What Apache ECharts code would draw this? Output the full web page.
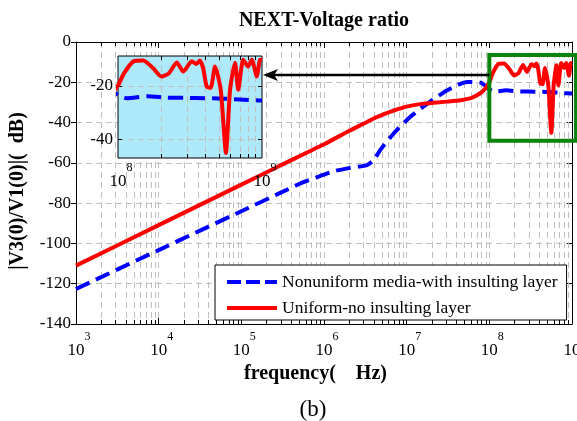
<!DOCTYPE html>
<html>
<head>
<meta charset="utf-8">
<title>NEXT-Voltage ratio</title>
<script src="https://cdn.jsdelivr.net/npm/echarts@6/dist/echarts.min.js"></script>
<style>
  html, body { margin: 0; padding: 0; background: #fff; }
  #chart { width: 577px; height: 421px; }
</style>
</head>
<body>
<div id="chart"></div>
<script>
// ---- data -------------------------------------------------------------
// Uniform line, no insulating layer (solid red)
const uniformFreq = [1e3, 1e4, 1e5, 3e5, 1e6, 2e6, 3e6, 4e6, 5.5e6, 7e6, 1e7, 1.6e7, 3e7, 4.5e7, 6e7, 7e7, 8e7, 9e7,
  1e8, 1.1e8, 1.28e8, 1.5e8, 1.75e8, 2.0e8, 2.25e8, 2.56e8, 2.84e8, 3.25e8, 3.5e8, 3.7e8, 3.9e8, 4.13e8, 4.4e8,
  4.72e8, 5.17e8, 5.62e8, 6.0e8, 6.5e8, 6.84e8, 7.4e8, 8.0e8, 8.5e8, 9.2e8, 9.7e8, 1e9];
const uniformDb = [-111, -90.9, -70.8, -61.2, -50.8, -44.2, -40.6, -38, -35.6, -34, -32.1, -30.6, -29.6, -28.9, -27.9, -26.6, -25, -23,
  -20, -15.5, -11, -10.7, -13.5, -16.6, -15.5, -11.4, -14.8, -11.0, -12, -10.7, -13.5, -20.4, -20.9,
  -12.9, -21.6, -45.1, -21.6, -11.5, -21.6, -10.4, -12.9, -10.4, -16.6, -10.4, -10.5];

// Non-uniform media with insulating layer (dashed blue)
const nonuniformFreq = [1e3, 1e4, 1e5, 3e5, 5e5, 8e5, 1.3e6, 2e6, 3.3e6, 4e6, 4.8e6, 7e6, 1.1e7, 1.8e7, 3.1e7, 5.4e7, 8e7,
  1e8, 1.15e8, 1.6e8, 2.2e8, 3e8, 4e8, 5e8, 6e8, 7e8, 8e8, 9e8, 1e9];
const nonuniformDb = [-122.6, -103.3, -84, -74.8, -70.5, -67.3, -64.2, -62.6, -61.1, -58.6, -53.6, -45.3, -37.2, -30.5, -23.9, -19.8, -20.3,
  -23.5, -24.7, -24.0, -24.5, -24.6, -24.7, -24.8, -25.0, -25.2, -25.4, -25.5, -25.6];

const seriesNames = ['Nonuniform media-with insulting layer', 'Uniform-no insulting layer'];
const insetYLabels = [-20, -40];
const minorFactors = [2, 3, 4, 5, 6, 7, 8, 9];

// ---- layout / style ---------------------------------------------------
const FONT = "'Liberation Serif', 'Times New Roman', serif";
const GRID_COLOR = '#c0c0c0';
const GRID_DASH = [6, 4];
const mainRange = { fMin: 1e3, fMax: 1e9, yMin: -140, yMax: 0 };
const insetRange = { fMin: 1e8, fMax: 1e9, yMin: -47, yMax: -9 };
const zoomBox = { f0: 1e8, f1: 1.12e9, top: -6.5, bottom: -49 };
const arrow = { tipF: 1.83e5, tailF: 1e8, level: -16.4 };

const pairs = (xs, ys) => xs.map((x, i) => [x, ys[i]]);
const uniformData = pairs(uniformFreq, uniformDb);
const nonuniformData = pairs(nonuniformFreq, nonuniformDb);

function minorsBetween(fMin, fMax) {
  const out = [];
  for (let d = Math.log10(fMin); d < Math.log10(fMax); d++) {
    minorFactors.forEach(k => out.push([k * Math.pow(10, d), 0]));
  }
  return out;
}

const crisp = v => Math.round(v) + 0.5;

// vertical dashed grid line plus short inward ticks at both ends
function verticalGridRenderer(range, tickLen) {
  return function (params, api) {
    const f = api.value(0);
    const top = api.coord([f, range.yMax]);
    const bot = api.coord([f, range.yMin]);
    const x = crisp(top[0]);
    return {
      type: 'group',
      children: [
        { type: 'line', shape: { x1: x, y1: top[1], x2: x, y2: bot[1] },
          style: { stroke: GRID_COLOR, lineWidth: 1, lineDash: GRID_DASH } },
        { type: 'line', shape: { x1: x, y1: bot[1], x2: x, y2: bot[1] - tickLen },
          style: { stroke: '#000', lineWidth: 1 } },
        { type: 'line', shape: { x1: x, y1: top[1], x2: x, y2: top[1] + tickLen },
          style: { stroke: '#000', lineWidth: 1 } }
      ]
    };
  };
}

// horizontal dashed grid line plus inward ticks on both sides
function horizontalGridRenderer(range, tickLen) {
  return function (params, api) {
    const v = api.value(1);
    const l = api.coord([range.fMin, v]);
    const r = api.coord([range.fMax, v]);
    const y = crisp(l[1]);
    return {
      type: 'group',
      children: [
        { type: 'line', shape: { x1: l[0], y1: y, x2: r[0], y2: y },
          style: { stroke: GRID_COLOR, lineWidth: 1, lineDash: GRID_DASH } },
        { type: 'line', shape: { x1: l[0], y1: y, x2: l[0] + tickLen, y2: y },
          style: { stroke: '#000', lineWidth: 1 } },
        { type: 'line', shape: { x1: r[0], y1: y, x2: r[0] - tickLen, y2: y },
          style: { stroke: '#000', lineWidth: 1 } }
      ]
    };
  };
}

function powerLabel(v) {
  const n = Math.round(Math.log10(v));
  return '{e|' + n + '}{b|10}{s|' + n + '}';
}
const powerRich = {
  b: { fontFamily: FONT, fontSize: 17, color: '#000', lineHeight: 28, verticalAlign: 'bottom' },
  s: { fontFamily: FONT, fontSize: 12, color: '#000', lineHeight: 12, verticalAlign: 'top' },
  e: { fontFamily: FONT, fontSize: 12, color: 'rgba(0,0,0,0)', lineHeight: 12, verticalAlign: 'top' }
};

const hiddenMarker = { color: 'rgba(0,0,0,0)', borderColor: 'rgba(0,0,0,0)', borderWidth: 0, opacity: 0 };

const chart = echarts.init(document.getElementById('chart'), null, { renderer: 'canvas' });

const option = {
  animation: false,
  backgroundColor: '#fff',
  textStyle: { fontFamily: FONT },
  graphic: [
    { type: 'text', x: 324, y: 21, z: 20,
      style: { text: 'NEXT-Voltage ratio', font: 'bold 20px ' + FONT, fill: '#000',
               align: 'center', verticalAlign: 'middle', textAlign: 'center', textVerticalAlign: 'middle' } },
    { type: 'text', x: 313, y: 410, z: 20,
      style: { text: '(b)', font: '23px ' + FONT, fill: '#000',
               align: 'center', verticalAlign: 'middle', textAlign: 'center', textVerticalAlign: 'middle' } }
  ],
  grid: [
    { left: 76, top: 42, width: 496, height: 282, containLabel: false, outerBoundsMode: 'none' },
    { left: 118, top: 56, width: 144, height: 102, containLabel: false, outerBoundsMode: 'none', show: true,
      backgroundColor: '#aee9f9', borderColor: '#000', borderWidth: 1, z: 5 }
  ],
  xAxis: [
    { type: 'log', logBase: 10, gridIndex: 0, position: 'bottom',
      min: mainRange.fMin, max: mainRange.fMax, splitNumber: 6,
      axisLine: { show: true, onZero: false, lineStyle: { color: '#000', width: 1 } },
      axisTick: { show: true, inside: true, length: 6, lineStyle: { color: '#000' } },
      splitLine: { show: true, lineStyle: { color: GRID_COLOR, type: GRID_DASH } },
      axisLabel: { formatter: powerLabel, margin: 7, rich: powerRich },
      name: 'frequency(    Hz)', nameLocation: 'middle', nameGap: 36,
      nameTextStyle: { fontFamily: FONT, fontWeight: 'bold', fontSize: 20, color: '#000', padding: [0, 17, 0, 0] } },
    { type: 'log', logBase: 10, gridIndex: 0, position: 'top',
      min: mainRange.fMin, max: mainRange.fMax, splitNumber: 6,
      axisLine: { show: true, onZero: false, lineStyle: { color: '#000', width: 1 } },
      axisTick: { show: true, inside: true, length: 6, lineStyle: { color: '#000' } },
      axisLabel: { show: false }, splitLine: { show: false } },
    { type: 'log', logBase: 10, gridIndex: 1, position: 'bottom', z: 6,
      min: insetRange.fMin, max: insetRange.fMax, splitNumber: 1,
      axisLine: { show: false }, axisTick: { show: false }, splitLine: { show: false },
      axisLabel: { formatter: powerLabel, margin: 4, rich: powerRich } }
  ],
  yAxis: [
    { type: 'value', gridIndex: 0, position: 'left',
      min: mainRange.yMin, max: mainRange.yMax, interval: 20,
      axisLine: { show: true, onZero: false, lineStyle: { color: '#000', width: 1 } },
      axisTick: { show: true, inside: false, length: 5, lineStyle: { color: '#000' } },
      splitLine: { show: true, lineStyle: { color: GRID_COLOR, type: GRID_DASH } },
      axisLabel: { margin: 5, fontFamily: FONT, fontSize: 17, color: '#000' },
      name: '|V3(0)/V1(0)|(  dB)', nameLocation: 'middle', nameGap: 48, nameRotate: 90,
      nameTextStyle: { fontFamily: FONT, fontWeight: 'bold', fontSize: 20, color: '#000', padding: [0, 16, 0, 0] } },
    { type: 'value', gridIndex: 0, position: 'right',
      min: mainRange.yMin, max: mainRange.yMax, interval: 20,
      axisLine: { show: true, onZero: false, lineStyle: { color: '#000', width: 1 } },
      axisTick: { show: true, inside: true, length: 5, lineStyle: { color: '#000' } },
      axisLabel: { show: false }, splitLine: { show: false } },
    { type: 'value', gridIndex: 1, position: 'left', z: 6,
      min: insetRange.yMin, max: insetRange.yMax,
      axisLine: { show: false }, axisTick: { show: false }, splitLine: { show: false },
      axisLabel: { margin: 5, fontFamily: FONT, fontSize: 17, color: '#000',
                   formatter: v => (insetYLabels.indexOf(v) >= 0 ? String(v) : '') } }
  ],
  legend: {
    data: [
      { name: seriesNames[0], lineStyle: { width: 4, type: [14, 5] }, itemStyle: hiddenMarker },
      { name: seriesNames[1], lineStyle: { width: 4 }, itemStyle: hiddenMarker }
    ],
    orient: 'vertical', left: 215, top: 265,
    itemWidth: 50, itemHeight: 14, itemGap: 8,
    selectedMode: false,
    textStyle: { fontFamily: FONT, fontSize: 17.5, color: '#000', lineHeight: 18 },
    backgroundColor: '#fff', borderColor: '#000', borderWidth: 1, borderRadius: 0,
    padding: [8, 9, 3, 10], z: 10
  },
  series: [
    { name: seriesNames[0], type: 'line', xAxisIndex: 0, yAxisIndex: 0, z: 3,
      data: nonuniformData, symbol: 'none', smooth: 0.2,
      lineStyle: { color: '#0000ff', width: 4, type: [15, 7] }, itemStyle: { color: '#0000ff' } },
    { name: seriesNames[1], type: 'line', xAxisIndex: 0, yAxisIndex: 0, z: 3,
      data: uniformData, symbol: 'none', smooth: 0.2,
      lineStyle: { color: '#ff0000', width: 4 }, itemStyle: { color: '#ff0000' } },
    { name: seriesNames[0], type: 'line', xAxisIndex: 2, yAxisIndex: 2, z: 8, clip: true,
      data: nonuniformData, symbol: 'none', smooth: 0.2,
      lineStyle: { color: '#0000ff', width: 4, type: [15, 7] }, itemStyle: { color: '#0000ff' } },
    { name: seriesNames[1], type: 'line', xAxisIndex: 2, yAxisIndex: 2, z: 8, clip: true,
      data: uniformData, symbol: 'none', smooth: 0.2,
      lineStyle: { color: '#ff0000', width: 4 }, itemStyle: { color: '#ff0000' } },
    // minor decade grid of the main axes
    { type: 'custom', xAxisIndex: 0, yAxisIndex: 0, z: 1, silent: true,
      data: minorsBetween(mainRange.fMin, mainRange.fMax),
      renderItem: verticalGridRenderer(mainRange, 4) },
    // inset grid
    { type: 'custom', xAxisIndex: 2, yAxisIndex: 2, z: 7, silent: true,
      data: minorsBetween(insetRange.fMin, insetRange.fMax),
      renderItem: verticalGridRenderer(insetRange, 4) },
    { type: 'custom', xAxisIndex: 2, yAxisIndex: 2, z: 7, silent: true,
      data: insetYLabels.map(v => [insetRange.fMin, v]),
      renderItem: horizontalGridRenderer(insetRange, 4) },
    // zoom box around the high-frequency band and the arrow to the inset
    { type: 'custom', xAxisIndex: 0, yAxisIndex: 0, z: 4, silent: true, clip: false,
      data: [[zoomBox.f0, zoomBox.top]],
      renderItem: function (params, api) {
        const a = api.coord([zoomBox.f0, zoomBox.top]);
        const b = api.coord([zoomBox.f1, zoomBox.bottom]);
        const tip = api.coord([arrow.tipF, arrow.level]);
        const tail = api.coord([arrow.tailF, arrow.level]);
        return {
          type: 'group',
          children: [
            { type: 'rect', shape: { x: a[0], y: a[1], width: b[0] - a[0], height: b[1] - a[1] },
              style: { fill: 'rgba(0,0,0,0)', stroke: '#0b840b', lineWidth: 4 } },
            { type: 'line', shape: { x1: tip[0] + 10, y1: tip[1], x2: tail[0], y2: tail[1] },
              style: { stroke: '#000', lineWidth: 2.5 } },
            { type: 'polygon',
              shape: { points: [[tip[0], tip[1]], [tip[0] + 15, tip[1] - 6], [tip[0] + 11, tip[1]], [tip[0] + 15, tip[1] + 6]] },
              style: { fill: '#000' } }
          ]
        };
      } }
  ]
};

chart.setOption(option);
</script>
</body>
</html>
